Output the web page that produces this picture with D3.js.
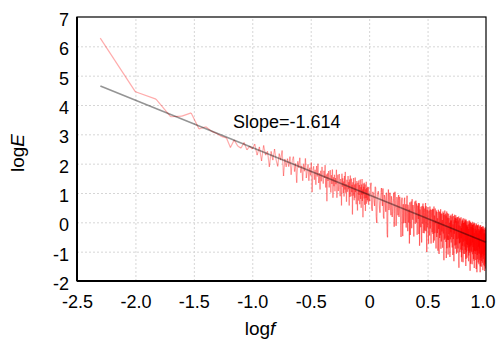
<!DOCTYPE html>
<html>
<head>
<meta charset="utf-8">
<script src="https://cdn.jsdelivr.net/npm/d3@7"></script>
<style>
    body { margin: 0; background: #fff; }
    svg { display: block; font-family: "Liberation Sans", Arial, sans-serif; }
    .grid line { stroke: #d6d6d6; stroke-dasharray: 2,2; }
    .grid path { display: none; }
    .ticks path, .ticks line { display: none; }
</style>
</head>
<body>
<div id="chart"></div>
<script>
// tick values / labels
var xTicks = [-2.5, -2.0, -1.5, -1.0, -0.5, 0, 0.5, 1.0];
var xTickLabels = ["-2.5", "-2.0", "-1.5", "-1.0", "-0.5", "0", "0.5", "1.0"];
var yTicks = [-2, -1, 0, 1, 2, 3, 4, 5, 6, 7];
var yTickLabels = ["-2", "-1", "0", "1", "2", "3", "4", "5", "6", "7"];

// spectrum, part A: f = 0.005, 0.010, ... 1.000  (logE values)
var stepA = 0.005;
var specA = [
    6.28, 4.45, 4.20, 3.60, 3.62, 3.73, 3.18, 3.26, 3.10, 3.02,
    2.92, 2.88, 2.55, 2.81, 2.60, 2.53, 2.72, 2.47, 2.60, 2.50,
    2.67, 2.29, 2.57, 2.09, 2.62, 2.29, 2.42, 1.89, 2.42, 2.12,
    2.50, 2.13, 1.91, 2.34, 2.12, 2.45, 1.58, 2.16, 1.89, 2.17,
    1.90, 2.24, 1.62, 2.11, 2.24, 1.73, 2.01, 1.35, 2.08, 1.86,
    2.20, 1.69, 1.93, 1.42, 2.00, 1.74, 2.18, 1.51, 1.75, 1.98,
    1.42, 1.86, 1.60, 2.04, 1.03, 1.77, 1.91, 1.45, 1.79, 1.28,
    1.92, 1.56, 2.00, 1.34, 1.68, 1.12, 1.76, 1.40, 1.89, 1.53,
    1.32, 1.76, 1.51, 1.95, 1.19, 1.63, 0.72, 1.67, 1.41, 1.75,
    1.19, 1.53, 1.78, 1.02, 1.61, 1.31, 1.80, 0.84, 1.54, 1.23,
    1.62, 1.06, 1.51, 1.30, 1.79, 0.84, 1.43, 1.62, 1.07, 1.31,
    1.65, 1.14, 0.89, 1.48, 1.38, 0.57, 1.66, 1.21, 1.50, 1.00,
    1.39, 0.88, 1.58, 1.12, 1.72, 1.01, 1.31, 0.70, 1.45, 1.19,
    1.04, 1.58, 1.13, 1.37, 0.57, 1.46, 0.86, 1.60, 1.20, 0.89,
    1.49, 1.03, 1.28, 0.27, 1.37, 0.91, 1.51, 1.10, 0.75, 1.29,
    0.84, 1.53, 1.03, 1.32, 0.62, 1.17, 1.41, 0.91, 0.40, 1.35,
    1.19, 0.74, 1.43, 0.93, 1.27, 0.62, 1.06, 1.46, 0.80, 1.20,
    0.50, 1.29, 0.94, 1.48, 0.73, 1.12, 0.17, 1.32, 0.96, 1.21,
    0.81, 1.35, 0.60, 1.04, 1.29, 0.39, 1.13, 0.83, 1.38, 0.63,
    1.17, 0.87, 0.76, 1.21, 0.71, 1.05, 1.20, 0.60, 0.99, 0.84
];

// spectrum, part B: f = 1.025, 1.050, ... 10.0
var startB = 1.0, stepB = 0.025;
var specB = [
    1.22, 0.50, 1.04, 0.77, 1.21, 0.19, 0.88, 1.06, 0.50, 0.73,
    1.17, 0.56, 0.20, 0.93, 0.67, 1.01, -0.41, 0.79, 0.42, 1.01,
    0.50, 0.89, 0.18, 0.67, 1.01, 0.30, 0.74, -0.12, 0.86, 0.45,
    0.74, 0.18, 0.87, 0.46, -0.50, 0.75, 0.29, 0.58, -0.03, 0.75,
    0.19, 0.58, -0.18, 0.77, 0.31, 0.60, -0.01, 0.44, 0.68, -0.43,
    0.46, 0.06, 0.75, 0.19, 0.59, -0.17, 0.32, 0.62, -0.04, 0.45,
    0.09, 0.64, -0.42, 0.37, 0.22, 0.66, -0.05, -0.80, 0.44, 0.08,
    0.53, -0.18, 0.26, 0.46, -0.05, -0.36, 0.54, 0.08, 0.33, -0.28,
    0.36, 0.01, 0.55, -0.50, 0.24, -0.17, 0.43, 0.07, -0.73, 0.36,
    -0.25, 0.25, -0.01, 0.44, -0.42, 0.13, 0.32, -0.18, 0.46, -0.14,
    0.15, -0.70, 0.34, -0.16, 0.23, -0.37, 0.47, -0.03, -0.54, 0.16,
    -0.30, 0.35, -0.11, 0.14, -0.97, 0.28, -0.22, 0.02, 0.37, -0.48,
    0.22, -0.44, 0.06, -0.20, 0.30, -0.65, 0.14, -0.31, -0.01, -0.87,
    0.23, -0.18, 0.32, -0.43, 0.06, -0.59, -0.15, 0.15, -0.40, -0.01,
    -0.31, 0.23, -1.22, 0.08, -0.28, -0.08, 0.31, -0.59, -0.04, -0.45,
    0.05, -0.41, 0.14, -0.86, -0.07, -0.22, 0.17, -0.58, -0.03, -0.34,
    -0.54, 0.06, -0.30, 0.20, -0.75, -0.16, 0.09, -1.11, -0.07, -0.42,
    0.13, -0.53, -0.13, -0.28, -0.04, -0.69, 0.16, -0.40, -0.90, -0.01,
    -0.36, 0.04, -0.67, -0.12, -0.52, 0.18, -1.03, -0.23, -0.08, -0.64,
    -0.04, -0.49, 0.05, -0.80, -0.20, -0.41, -0.01, -0.71, -0.37, 0.08,
    -0.57, -0.13, -0.93, 0.02, -0.38, -0.19, -0.69, -1.34, -0.04, -0.50,
    -0.25, -0.80, 0.05, -0.56, -0.11, -0.66, -0.31, -1.07, -0.02, -0.47,
    -0.07, -0.53, -0.78, -0.18, 0.07, -0.94, -0.29, -0.64, -0.04, -1.25,
    -0.25, -0.70, -0.10, -0.50, -0.01, -0.91, -0.41, -0.16, -0.77, -0.32,
    -0.82, -0.07, -0.58, -0.38, -1.13, -0.13, -0.69, -0.04, -0.49, -0.99,
    -0.25, -0.55, 0.00, -0.80, -0.31, -1.41, -0.16, -0.66, -0.37, -0.92,
    -0.12, -0.77, -0.43, -1.08, -0.23, -0.63, -0.09, -0.89, -0.54, -0.29,
    -0.75, -0.20, -1.25, -0.40, -0.61, -0.06, -1.01, -0.36, -0.82, -0.17,
    -0.42, -0.97, -0.22, -0.73, -0.13, -1.18, -0.48, -0.83, -0.29, -1.59,
    -0.19, -0.69, -0.95, -0.35, -0.60, -0.10, -1.11, -0.46, -0.81, -0.26,
    -0.91, -0.37, -1.37, -0.17, -0.67, -0.43, -1.03, -0.28, -0.78, -0.53,
    -0.19, -0.89, -0.49, -1.19, -0.34, -0.75, -0.25, -1.50, -0.65, -0.40,
    -0.85, -0.26, -1.11, -0.46, -0.71, -0.16, -1.32, -0.57, -0.97, -0.37,
    -0.32, -1.03, -0.53, -0.83, -0.23, -1.63, -0.44, -0.79, -1.09, -0.29,
    -0.74, -0.39, -1.25, -0.25, -0.95, -0.60, -1.50, -0.36, -0.86, -0.51,
    -0.31, -1.01, -0.56, -1.21, -0.42, -0.82, -0.22, -1.42, -0.67, -0.92
];

// spectrum, part C: the in-between bins f = 1.0125, 1.0375, ... 9.9875
var startC = 1.0125, stepC = 0.025;
var specC = [
    0.72, 1.35, 0.39, 0.97, 0.56, 1.19, -0.02, 1.01, 0.85, 0.33,
    1.02, 0.71, 1.15, 0.13, 0.87, 0.36, 1.00, -0.51, 1.12, 0.46,
    1.00, 0.24, 0.73, 0.37, 0.81, -0.15, 1.04, 0.48, 0.06, 0.85,
    0.24, 0.93, 0.37, 0.76, -0.10, 0.55, 0.84, -0.47, 0.62, 0.20,
    0.84, -0.02, 0.62, 0.32, 0.91, -0.30, 0.54, 0.09, -0.72, 0.62,
    0.21, 0.71, -0.20, 0.79, 0.09, 0.43, -0.48, 0.52, 0.71, -0.05,
    0.74, -0.01, 0.43, -0.23, 0.57, 0.11, -0.40, 0.65, 0.04, 0.28,
    -0.17, 0.42, -0.69, 0.56, 0.10, 0.64, -0.11, 0.28, -0.37, 0.47,
    -0.04, 0.66, -0.30, 0.20, -1.01, 0.43, -0.12, 0.52, -0.48, 0.26,
    0.40, -0.45, 0.54, -0.21, 0.28, -0.72, 0.17, 0.42, -0.34, 0.01,
    -0.40, 0.45, -0.16, 0.54, -0.62, 0.18, -0.33, 0.32, 0.06, -0.89,
    0.40, -0.50, 0.24, -0.36, 0.08, -0.72, 0.43, -0.23, -1.08, 0.27,
    -0.53, 0.36, -0.29, 0.45, -0.90, 0.15, -0.46, 0.29, -0.16, 0.08,
    -0.67, 0.37, -0.38, 0.02, -1.29, 0.26, -0.30, 0.40, -0.55, -0.06,
    0.29, -0.67, 0.13, -0.47, 0.37, -0.88, -0.04, -0.34, 0.16, -1.10,
    -0.60, 0.29, -0.31, 0.14, -0.77, -0.02, -1.18, 0.22, -0.48, 0.06,
    0.26, -0.69, 0.00, -0.50, 0.15, -0.86, 0.29, -0.41, -0.67, -0.12,
    -0.57, 0.22, -1.33, 0.07, -0.39, 0.26, -0.79, -0.05, -0.55, 0.14,
    0.24, -0.76, -0.02, -1.07, 0.13, -0.57, -0.13, -0.88, 0.17, -0.44,
    -0.89, 0.06, -0.55, 0.20, -1.55, -0.11, -0.71, 0.14, -0.47, -1.02,
    0.13, -0.68, -0.13, -0.88, 0.17, -0.54, -1.19, -0.04, -0.79, 0.05,
    -0.95, 0.10, -0.65, -0.21, -1.36, 0.14, -0.56, -0.02, -0.87, -0.17,
    -0.82, 0.02, -1.08, 0.12, -0.63, -0.24, -0.94, 0.06, -1.49, -0.10,
    0.10, -1.00, -0.20, -0.75, 0.04, -1.21, -0.11, -0.86, -0.32, -0.62,
    0.03, -0.97, -0.13, -1.33, -0.23, -0.73, 0.06, -1.04, -0.34, -0.84,
    0.05, -0.85, -1.65, -0.10, -0.71, -0.01, -1.11, -0.31, -0.97, -0.07,
    -1.02, -0.02, -0.78, -0.18, -1.43, 0.02, -0.69, -1.09, -0.09, -0.84,
    -0.05, -1.00, -0.30, -0.85, -0.01, -1.31, -0.21, -1.56, -0.42, -0.97,
    -0.02, -0.82, -0.27, -1.08, -0.13, -0.73, -1.28, -0.08, -0.99, -0.39,
    -1.14, -0.04, -0.90, -0.25, -1.70, -0.35, -1.01, -0.11, -0.71, -1.26,
    -0.11, -0.97, -0.42, -1.22, -0.07, -0.83, -0.23, -1.43, -0.48, -1.08,
    -1.04, -0.14, -0.79, -0.29, -1.29, -0.10, -1.70, -0.45, -0.95, -0.20,
    -0.10, -1.21, -0.31, -1.01, -0.16, -1.51, -0.42, -0.87, -0.22, -1.17,
    -0.17, -0.93, -1.38, -0.13, -1.08, -0.38, -1.60, -0.24, -0.79, -1.24,
    -0.14, -1.14, -0.45, -1.45, -0.30, -1.00, -0.20, -1.31, -0.56, -1.66,
    -0.26, -1.11, -0.41, -1.36, -0.17, -0.97, -1.57, -0.37, -1.17, -0.52
];

// fitted line
var fitX = [-2.30, 1.00];
var fitY = [4.65, -0.68];
var slopeText = "Slope=-1.614";

var margin = { top: 17, right: 10, bottom: 59, left: 77 },
    width = 496 - margin.left - margin.right,
    height = 340 - margin.top - margin.bottom;

var svg = d3.select("#chart")
    .append("svg")
    .attr("width", 496)
    .attr("height", 340);

var g = svg.append("g")
    .attr("transform", "translate(" + margin.left + "," + margin.top + ")");

var x = d3.scaleLinear().domain([-2.5, 1.0]).range([0, width]);
var y = d3.scaleLinear().domain([-2, 7]).range([height, 0]);

// grid
g.append("g")
    .attr("class", "grid")
    .attr("transform", "translate(0," + height + ")")
    .call(d3.axisBottom(x).tickValues(xTicks.slice(1, -1)).tickSize(-height).tickFormat(""));
g.append("g")
    .attr("class", "grid")
    .call(d3.axisLeft(y).tickValues(yTicks.slice(1, -1)).tickSize(-width).tickFormat(""));

// spectrum points, ordered by frequency
var pts = specA.map(function (v, i) { return [stepA * (i + 1), v]; })
    .concat(specB.map(function (v, i) { return [startB + stepB * (i + 1), v]; }))
    .concat(specC.map(function (v, i) { return [startC + stepC * i, v]; }))
    .sort(function (a, b) { return a[0] - b[0]; })
    .map(function (p) { return [Math.log10(p[0]), p[1], p[0]]; });

g.append("clipPath").attr("id", "clip")
    .append("rect").attr("width", width).attr("height", height);

// drawn segment by segment so overlaps build up
g.append("g")
    .attr("clip-path", "url(#clip)")
    .selectAll("line")
    .data(d3.pairs(pts))
    .join("line")
    .attr("x1", function (d) { return x(d[0][0]); })
    .attr("y1", function (d) { return y(d[0][1]); })
    .attr("x2", function (d) { return x(d[1][0]); })
    .attr("y2", function (d) { return y(d[1][1]); })
    .attr("stroke", "#ff0000")
    .attr("stroke-opacity", function (d) { return d[0][2] >= 1 ? 0.4 : 0.33; })
    .attr("stroke-width", 1.2);

// fit line
g.append("line")
    .attr("x1", x(fitX[0])).attr("y1", y(fitY[0]))
    .attr("x2", x(fitX[1])).attr("y2", y(fitY[1]))
    .attr("stroke", "#000")
    .attr("stroke-opacity", 0.42)
    .attr("stroke-width", 1.6);

// frame
g.append("rect")
    .attr("width", width).attr("height", height)
    .attr("fill", "none").attr("stroke", "#000").attr("stroke-width", 1.2);
g.append("line").attr("x1", 0).attr("x2", 0).attr("y1", 0).attr("y2", height)
    .attr("stroke", "#000").attr("stroke-width", 2);
g.append("line").attr("x1", 0).attr("x2", width).attr("y1", height).attr("y2", height)
    .attr("stroke", "#000").attr("stroke-width", 2);

// tick labels
var xAxis = g.append("g")
    .attr("class", "ticks")
    .attr("transform", "translate(0," + height + ")")
    .call(d3.axisBottom(x).tickValues(xTicks).tickSize(0).tickPadding(0)
        .tickFormat(function (d, i) { return xTickLabels[i]; }));
xAxis.selectAll("text")
    .attr("y", 27).attr("dy", null)
    .style("font-size", "18px").style("font-family", "'Liberation Sans', Arial, sans-serif")
    .attr("fill", "#000");
// last label pushed in so it stays inside the picture
xAxis.selectAll("text").filter(function (d) { return d === 1.0; })
    .attr("text-anchor", "end").attr("x", 9);

var yAxis = g.append("g")
    .attr("class", "ticks")
    .call(d3.axisLeft(y).tickValues(yTicks).tickSize(0).tickPadding(0)
        .tickFormat(function (d, i) { return yTickLabels[i]; }));
yAxis.selectAll("text")
    .attr("x", -8).attr("dy", "8.5px")
    .style("font-size", "18px").style("font-family", "'Liberation Sans', Arial, sans-serif")
    .attr("fill", "#000");

// axis titles
var xt = svg.append("text")
    .attr("x", 260).attr("y", 335)
    .attr("text-anchor", "middle")
    .style("font-size", "19px");
xt.append("tspan").text("log");
xt.append("tspan").style("font-style", "italic").text("f");

var yt = svg.append("text")
    .attr("transform", "translate(24,153) rotate(-90)")
    .attr("text-anchor", "middle")
    .style("font-size", "19px");
yt.append("tspan").text("log");
yt.append("tspan").style("font-style", "italic").text("E");

// slope annotation
g.append("text")
    .attr("x", x(-1.165)).attr("y", y(3.22))
    .style("font-size", "18px")
    .text(slopeText);
</script>
</body>
</html>
